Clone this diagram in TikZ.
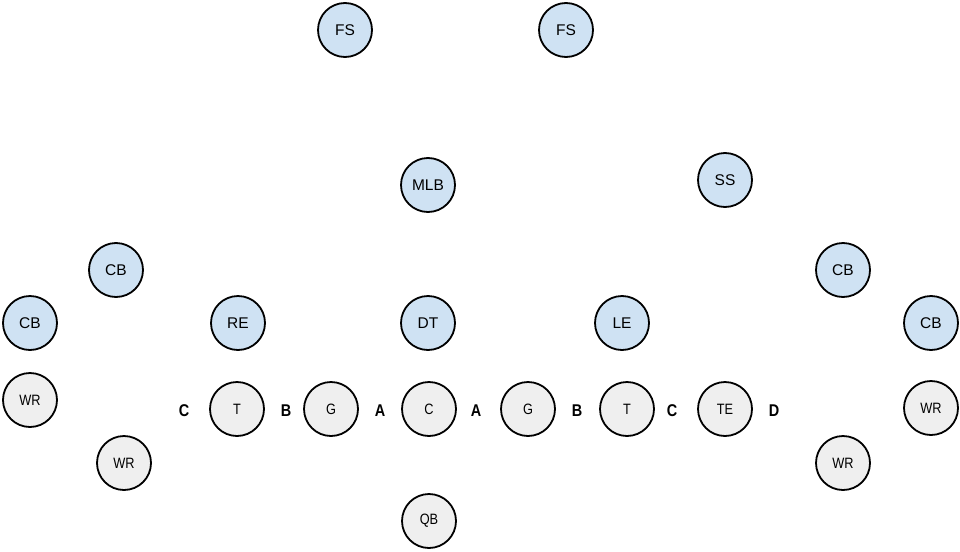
\documentclass[tikz,border=0pt]{standalone}
\usepackage{fontspec}
\setmainfont{Liberation Sans}
\newfontfamily\narrowfont{Liberation Sans}[FakeStretch=0.85]
\usepackage{tikz}
\usetikzlibrary{positioning}
\definecolor{defblue}{HTML}{CFE2F3}
\definecolor{offgray}{HTML}{EFEFEF}
\tikzset{
  dv/.style = {draw=black, fill=defblue, line width=1.8pt, circle, minimum size=54pt, inner sep=0pt, font=\fontsize{15.5}{15.5}\selectfont},
  ov/.style = {draw=black, fill=offgray, line width=1.8pt, circle, minimum size=54pt, inner sep=0pt, font=\narrowfont\fontsize{15}{15}\selectfont},
  gap/.style = {font=\narrowfont\bfseries\fontsize{17}{17}\selectfont}
}
\begin{document}
\begin{tikzpicture}[x=1pt, y=-1pt]
            \useasboundingbox (0,0) rectangle (960,551);
            % defense
            \node[dv] (fsl) at (345,30) {FS};
            \node[dv] (fsr) at (566,30) {FS};
            \node[dv] (mlb) at (428,185) {MLB};
            \node[dv] (ss) at (725,180) {SS};
            \node[dv] (cbl) at (116,270) {CB};
            \node[dv] (cbr) at (843,270) {CB};
            \node[dv] (cbwl) at (30,323) {CB};
            \node[dv] (re) at (238,323) {RE};
            \node[dv] (dt) at (428,323) {DT};
            \node[dv] (le) at (622,323) {LE};
            \node[dv] (cbwr) at (931,323) {CB};
            % offense
            \node[ov] (wrl) at (30,400) {WR};
            \node[ov] (tl) at (237,409) {T};
            \node[ov] (gl) at (331,409) {G};
            \node[ov] (c) at (429,409) {C};
            \node[ov] (gr) at (528,409) {G};
            \node[ov] (tr) at (627,409) {T};
            \node[ov] (te) at (725,409) {TE};
            \node[ov] (wrr) at (931,408) {WR};
            \node[ov] (wrsl) at (124,463) {WR};
            \node[ov] (wrsr) at (843,463) {WR};
            \node[ov] (qb) at (429,521) {QB};
            % gaps
            \node[gap] (cgl) at (184,411) {C};
            \node[gap] (bgl) at (286,411) {B};
            \node[gap] (agl) at (380,411) {A};
            \node[gap] (agr) at (476,411) {A};
            \node[gap] (bgr) at (577,411) {B};
            \node[gap] (cgr) at (672,411) {C};
            \node[gap] (dgr) at (774,411) {D};
        \end{tikzpicture}
\end{document}
